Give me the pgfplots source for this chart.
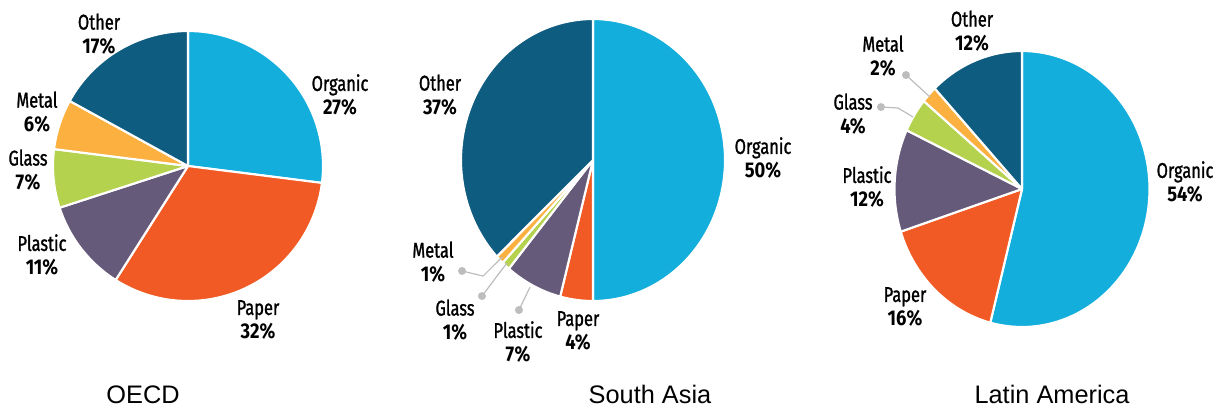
\documentclass[border=0pt]{standalone}
\usepackage{pgfplots}
\pgfplotsset{compat=1.18}
\usepackage{fontspec}
\setmainfont{Liberation Sans}
\newfontfamily\labfont{Fira Sans}[FakeStretch=0.77, FakeBold=1.2]
\newfontfamily\pctfont{Fira Sans Bold}[FakeStretch=0.86]
\definecolor{organic}{HTML}{14AEDC}
\definecolor{paper}{HTML}{F15A24}
\definecolor{plastic}{HTML}{665A7B}
\definecolor{glass}{HTML}{B5D24E}
\definecolor{metal}{HTML}{FBB040}
\definecolor{other}{HTML}{0E5C80}
\definecolor{lead}{HTML}{BDBDBD}

% one slice: value (percent), colour; slices run clockwise from 12 o'clock
\gdef\pcum{0}
\newcommand\slice[2]{%
  \pgfmathsetmacro\sa{90-3.6*\pcum}%
  \pgfmathsetmacro\sb{90-3.6*(\pcum+#1)}%
  \pgfmathsetmacro\newcum{\pcum+#1}\xdef\pcum{\newcum}%
  \edef\tmp{\noexpand\addplot[fill=#2, draw=white, line width=1.6pt, line join=round,
     domain=\sb:\sa, samples=90, variable=\noexpand\t]
     ({cos(\noexpand\t)},{sin(\noexpand\t)}) -- (0,0) -- cycle;}%
  \tmp}
\pgfplotsset{pie/.style={scale only axis, xmin=-1, xmax=1, ymin=-1, ymax=1,
  hide axis, clip=false, anchor=center},
  leader/.style={lead, line width=0.9pt, mark=*, mark indices={1}, mark size=2.5pt,
  mark options={fill=lead, draw=lead}}}
\newcommand\lab[4]{\node[font=\labfont\fontsize{16}{18}\selectfont, align=center, inner sep=0pt]
  at ({#1*0.75pt},{(412-#2)*0.75pt}) {#3\\{\pctfont #4}};}
\newcommand\capt[3]{\node[font=\fontsize{19}{21}\selectfont, anchor=base, inner sep=0pt]
  at ({#1*0.75pt},{(412-#2)*0.75pt}) {#3};}

\begin{document}
\begin{tikzpicture}
\path[use as bounding box] (0,0) rectangle (915pt,309pt);

% OECD
\begin{axis}[pie, at={({188*0.75pt},{(412-166)*0.75pt})}, width={270*0.75pt}, height={270*0.75pt}]
\gdef\pcum{0}
\slice{27}{organic}
\slice{32}{paper}
\slice{11}{plastic}
\slice{7}{glass}
\slice{6}{metal}
\slice{17}{other}
\end{axis}

% South Asia
\begin{axis}[pie, at={({593*0.75pt},{(412-160)*0.75pt})}, width={264*0.75pt}, height={282*0.75pt}]
\gdef\pcum{0}
\slice{50}{organic}
\slice{4}{paper}
\slice{7}{plastic}
\slice{1}{glass}
\slice{1}{metal}
\slice{37}{other}
\addplot[leader] coordinates {(-0.992,-0.787) (-0.833,-0.823) (-0.686,-0.686)};
\addplot[leader] coordinates {(-0.841,-0.965) (-0.652,-0.730)};
\addplot[leader] coordinates {(-0.561,-1.064) (-0.477,-0.901)};
\end{axis}

% Latin America
\begin{axis}[pie, at={({1022*0.75pt},{(412-189)*0.75pt})}, width={255*0.75pt}, height={276*0.75pt}]
\gdef\pcum{0}
\slice{54}{organic}
\slice{16}{paper}
\slice{12}{plastic}
\slice{4}{glass}
\slice{2}{metal}
\slice{12}{other}
\addplot[leader] coordinates {(-0.910,0.826) (-0.722,0.667)};
\addplot[leader] coordinates {(-1.106,0.594) (-0.973,0.587) (-0.855,0.522)};
\end{axis}

% labels OECD
\lab{99}{34}{Other}{17\%}
\lab{340}{95}{Organic}{27\%}
\lab{258}{320}{Paper}{32\%}
\lab{42}{255}{Plastic}{11\%}
\lab{28}{170}{Glass}{7\%}
\lab{37}{112}{Metal}{6\%}
% labels South Asia
\lab{440}{95}{Other}{37\%}
\lab{763}{158}{Organic}{50\%}
\lab{433}{262}{Metal}{1\%}
\lab{455}{320}{Glass}{1\%}
\lab{518}{342}{Plastic}{7\%}
\lab{578}{331}{Paper}{4\%}
% labels Latin America
\lab{972}{31}{Other}{12\%}
\lab{883}{56}{Metal}{2\%}
\lab{853}{114}{Glass}{4\%}
\lab{867}{187}{Plastic}{12\%}
\lab{905}{307}{Paper}{16\%}
\lab{1185}{182}{Organic}{54\%}

% captions
\capt{143}{403}{OECD}
\capt{650}{403}{South Asia}
\capt{1052}{403}{Latin America}
\end{tikzpicture}
\end{document}
